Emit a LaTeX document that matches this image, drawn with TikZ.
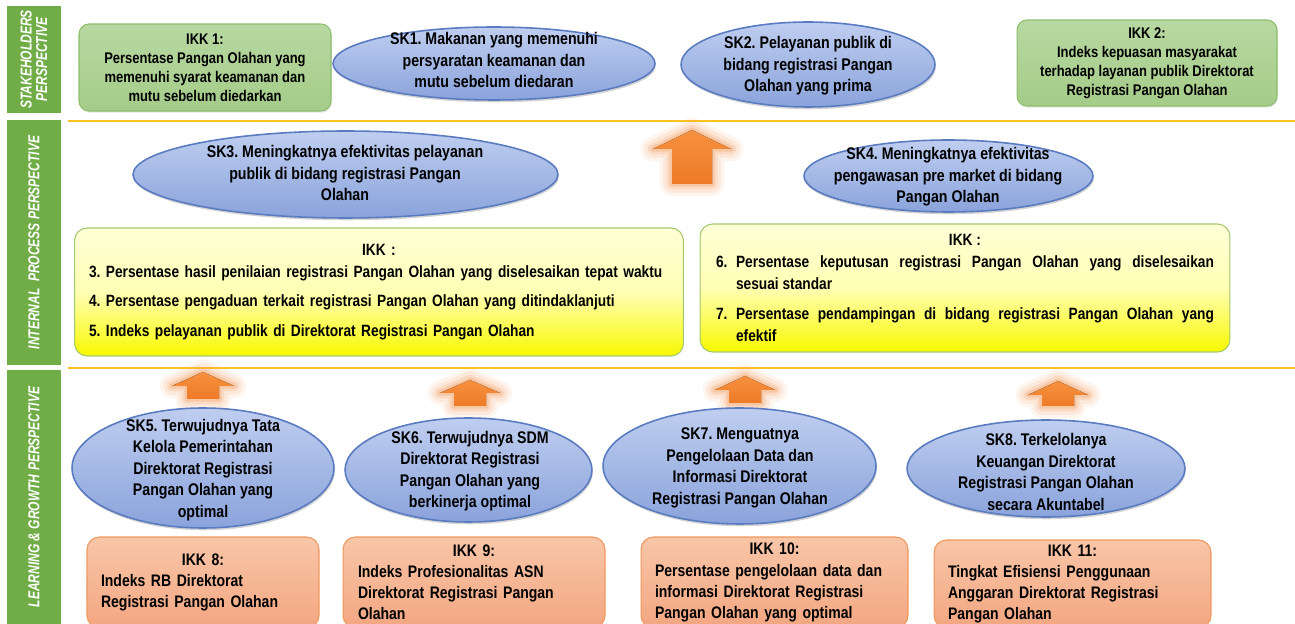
\documentclass[tikz,border=0pt]{standalone}
\usepackage{fontspec}
\setmainfont{Liberation Sans}[FakeStretch=0.84]
\newfontfamily\barfont{Liberation Sans}[FakeStretch=0.76]
\usetikzlibrary{shapes.geometric,shadows}
\definecolor{BarGreen}{HTML}{70AD47}
\definecolor{EllTop}{HTML}{BFCEF0}
\definecolor{EllBot}{HTML}{8AA3DB}
\definecolor{EllRim}{HTML}{5A7BC0}
\definecolor{GreenTop}{HTML}{B8D8A2}
\definecolor{GreenBot}{HTML}{A4CC88}
\definecolor{GreenRim}{HTML}{8DBE6C}
\definecolor{YelTop}{HTML}{FFFFD8}
\definecolor{YelMid}{HTML}{FFFFB4}
\definecolor{YelBot}{HTML}{F8F800}
\definecolor{YelRim}{HTML}{A3C96E}
\definecolor{OrTop}{HTML}{F8C6A8}
\definecolor{OrBot}{HTML}{F3A681}
\definecolor{OrRim}{HTML}{F0965A}
\definecolor{ArrTop}{HTML}{F7913F}
\definecolor{ArrBot}{HTML}{EE7A27}
\definecolor{ArrGlow}{HTML}{F4A066}
\definecolor{LineGold}{HTML}{FFC21F}
\newcommand\UpArrow[6]{%
  \foreach \lw/\op in {14pt/0.1,10pt/0.14,6pt/0.22,3pt/0.32}{%
    \draw[line width=\lw, draw=ArrGlow, opacity=\op, line join=round]
      (#1,#2) -- ({#1+#3},#4) -- ({#1+#5},#4) -- ({#1+#5},#6) -- ({#1-#5},#6) -- ({#1-#5},#4) -- ({#1-#3},#4) -- cycle;}
  \fill[top color=ArrTop, bottom color=ArrBot]
      (#1,#2) -- ({#1+#3},#4) -- ({#1+#5},#4) -- ({#1+#5},#6) -- ({#1-#5},#6) -- ({#1-#5},#4) -- ({#1-#3},#4) -- cycle;}
\begin{document}
\frenchspacing
\begin{tikzpicture}[x=0.02cm,y=-0.02cm,
  goal/.style={ellipse, draw=EllRim, line width=0.9pt, top color=EllTop, bottom color=EllBot, inner sep=0pt,
    drop shadow={shadow xshift=0.5pt, shadow yshift=-1.3pt, opacity=0.35}},
  goaltext/.style={align=center, font=\fontsize{9.6}{12.2}\selectfont\bfseries, text=black, inner sep=0pt},
  greenbox/.style={rounded corners=0.2cm, draw=GreenRim, line width=0.6pt, top color=GreenTop, bottom color=GreenBot,
    align=center, font=\fontsize{8.8}{10.8}\selectfont\bfseries, inner sep=0pt,
    drop shadow={shadow xshift=0.5pt, shadow yshift=-1pt, opacity=0.2}},
  yellowbox/.style={rounded corners=0.25cm, draw=YelRim, line width=0.6pt, top color=YelTop, bottom color=YelBot, middle color=YelMid,
    font=\fontsize{9.3}{12.4}\selectfont\bfseries, inner sep=0pt},
  orangebox/.style={rounded corners=0.25cm, draw=OrRim, line width=0.6pt, top color=OrTop, bottom color=OrBot,
    font=\fontsize{9.5}{12}\selectfont\bfseries, inner sep=0pt, align=left},
  bar/.style={fill=BarGreen, draw=none, rotate=90, text=white, align=center, inner sep=0pt,
    font=\barfont\fontsize{9}{8.8}\selectfont\bfseries\itshape},
  goldline/.style={draw=LineGold, line width=1.6pt}]
\useasboundingbox (0,0) rectangle (1295,624);
\clip (0,0) rectangle (1295,624);

% perspective bars
\node[bar, minimum width=2.14cm, minimum height=1.08cm] (b1) at (34,59.5) {STAKEHOLDERS\\PERSPECTIVE};
\node[bar, minimum width=4.9cm, minimum height=1.08cm] (b2) at (34,242.5) {INTERNAL\ \ PROCESS PERSPECTIVE};
\node[bar, minimum width=5.08cm, minimum height=1.08cm] (b3) at (34,497) {LEARNING \& GROWTH PERSPECTIVE};

% separator lines
\coordinate (l1a) at (68,121); \coordinate (l1b) at (1295,121);
\coordinate (l2a) at (68,368); \coordinate (l2b) at (1295,368);
\draw[goldline] (l1a) -- (l1b);
\draw[goldline] (l2a) -- (l2b);

% arrows
\UpArrow{692}{130}{39}{149}{20}{184}
\UpArrow{203}{372}{31}{386}{16}{399}
\UpArrow{470}{380}{30}{393}{16}{406}
\UpArrow{745}{376}{30}{390}{16}{403}
\UpArrow{1058}{381}{30}{395}{16}{406}

% stakeholders row
\node[greenbox, minimum width=5.04cm, minimum height=1.74cm] (ikk1) at (205,67.5)
  {IKK 1:\\Persentase Pangan Olahan yang\\memenuhi syarat keamanan dan\\mutu sebelum diedarkan};
\node[goal, minimum width=6.44cm, minimum height=1.46cm] (sk1) at (494,63.5) {};
\node[goaltext] (sk1t) at (494,60) {SK1. Makanan yang memenuhi\\persyaratan keamanan dan\\mutu sebelum diedaran};
\node[goal, minimum width=5.08cm, minimum height=1.7cm] (sk2) at (808,64.5) {};
\node[goaltext] (sk2t) at (808,66) {SK2. Pelayanan publik di\\bidang registrasi Pangan\\Olahan yang prima};
\node[greenbox, minimum width=5.2cm, minimum height=1.72cm] (ikk2) at (1147,63)
  {IKK 2:\\Indeks kepuasan masyarakat\\terhadap layanan publik Direktorat\\Registrasi Pangan Olahan};

% internal process row
\node[goal, minimum width=8.5cm, minimum height=1.74cm] (sk3) at (345.5,174.5) {};
\node[goaltext] (sk3t) at (345,173) {SK3. Meningkatnya efektivitas pelayanan\\publik di bidang registrasi Pangan\\Olahan};
\node[goal, minimum width=5.78cm, minimum height=1.44cm] (sk4) at (948.5,176) {};
\node[goaltext] (sk4t) at (948,177) {SK4. Meningkatnya efektivitas\\pengawasan pre market di bidang\\Pangan Olahan};

\node[yellowbox, minimum width=12.18cm, minimum height=2.56cm, text width=11.6cm, align=left] (ikkL) at (379,292)
  {\parindent=0pt{\centering IKK :\par}
   3. Persentase hasil penilaian registrasi Pangan Olahan yang diselesaikan tepat waktu\par\vspace{4.5pt}
   4. Persentase pengaduan terkait registrasi Pangan Olahan yang ditindaklanjuti\par\vspace{4.5pt}
   5. Indeks pelayanan publik di Direktorat Registrasi Pangan Olahan\par};
\node[yellowbox, minimum width=10.6cm, minimum height=2.56cm, text width=9.96cm, align=justify] (ikkR) at (965,288)
  {\parindent=0pt{\centering IKK :\par}
   \hangindent=0.4cm\hangafter=1\makebox[0.4cm][l]{6.}Persentase keputusan registrasi Pangan Olahan yang diselesaikan\linebreak sesuai standar\par\vspace{5pt}
   \hangindent=0.4cm\hangafter=1\makebox[0.4cm][l]{7.}Persentase pendampingan di bidang registrasi Pangan Olahan yang\linebreak efektif\par};

% learning & growth row
\node[goal, minimum width=5.24cm, minimum height=2.4cm] (sk5) at (203,468) {};
\node[goaltext] (sk5t) at (203,470) {SK5. Terwujudnya Tata\\Kelola Pemerintahan\\Direktorat Registrasi\\Pangan Olahan yang\\optimal};
\node[goal, minimum width=4.94cm, minimum height=2.08cm] (sk6) at (468.5,470) {};
\node[goaltext] (sk6t) at (470,471) {SK6. Terwujudnya SDM\\Direktorat Registrasi\\Pangan Olahan yang\\berkinerja optimal};
\node[goal, minimum width=5.46cm, minimum height=2.32cm] (sk7) at (739.5,466) {};
\node[goaltext] (sk7t) at (740,468) {SK7. Menguatnya\\Pengelolaan Data dan\\Informasi Direktorat\\Registrasi Pangan Olahan};
\node[goal, minimum width=5.56cm, minimum height=1.94cm] (sk8) at (1046,468.5) {};
\node[goaltext] (sk8t) at (1046,472) {SK8. Terkelolanya\\Keuangan Direktorat\\Registrasi Pangan Olahan\\secara Akuntabel};

\node[orangebox, minimum width=4.64cm, minimum height=1.82cm, text width=4.08cm] (ikk8) at (203,582.5)
  {{\centering IKK 8:\par}Indeks RB Direktorat\\Registrasi Pangan Olahan};
\node[orangebox, minimum width=5.24cm, minimum height=1.82cm, text width=4.64cm] (ikk9) at (474,582.5)
  {{\centering IKK 9:\par}Indeks Profesionalitas ASN\\Direktorat Registrasi Pangan\\Olahan};
\node[orangebox, minimum width=5.34cm, minimum height=1.82cm, text width=4.78cm] (ikk10) at (774.5,582.5)
  {{\centering IKK 10:\par}Persentase pengelolaan data dan\\informasi Direktorat Registrasi\\Pangan Olahan yang optimal};
\node[orangebox, minimum width=5.54cm, minimum height=1.76cm, text width=4.98cm] (ikk11) at (1072.5,584)
  {{\centering IKK 11:\par}Tingkat Efisiensi Penggunaan\\Anggaran Direktorat Registrasi\\Pangan Olahan};
\end{tikzpicture}
\end{document}
